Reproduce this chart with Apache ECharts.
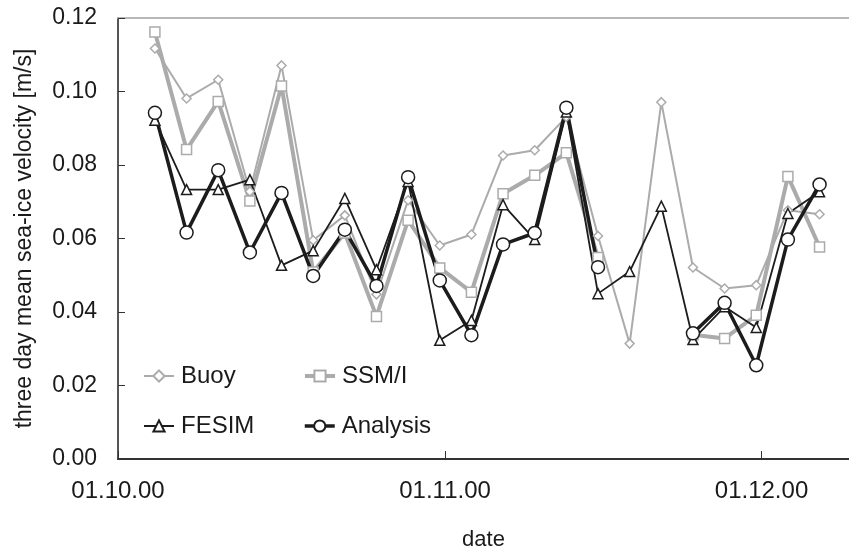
<!DOCTYPE html>
<html>
<head>
<meta charset="utf-8">
<script src="https://cdn.jsdelivr.net/npm/echarts@6/dist/echarts.min.js"></script>
<style>
html,body{margin:0;padding:0;background:#fff;}
#chart{width:849px;height:552px;}
</style>
</head>
<body>
<div id="chart"></div>
<script>
// Dates (centre of each three-day window)
const dates = ['2000-10-04 12:00','2000-10-07 12:00','2000-10-10 12:00','2000-10-13 12:00','2000-10-16 12:00',
  '2000-10-19 12:00','2000-10-22 12:00','2000-10-25 12:00','2000-10-28 12:00','2000-10-31 12:00',
  '2000-11-03 12:00','2000-11-06 12:00','2000-11-09 12:00','2000-11-12 12:00','2000-11-15 12:00',
  '2000-11-18 12:00','2000-11-21 12:00','2000-11-24 12:00','2000-11-27 12:00','2000-11-30 12:00',
  '2000-12-03 12:00','2000-12-06 12:00'];
const buoy = [0.1117,0.0981,0.1032,0.0728,0.1071,0.0595,0.0663,0.0448,0.0704,0.0581,
  0.0611,0.0826,0.0840,0.0931,0.0607,0.0314,0.0971,0.0521,0.0464,0.0473,0.0677,0.0666];
const ssmi = [0.1162,0.0842,0.0973,0.0702,0.1015,0.0509,0.0615,0.0388,0.0650,0.0520,
  0.0454,0.0722,0.0772,0.0833,0.0548,null,null,0.0338,0.0328,0.0391,0.0769,0.0577];
const fesim = [0.0922,0.0733,0.0733,0.0760,0.0527,0.0567,0.0709,0.0515,0.0755,0.0323,
  0.0377,0.0692,0.0597,0.0944,0.0450,0.0510,0.0688,0.0325,0.0414,0.0358,0.0668,0.0727];
const analysis = [0.0942,0.0616,0.0786,0.0562,0.0724,0.0498,0.0624,0.0471,0.0767,0.0486,
  0.0337,0.0584,0.0615,0.0956,0.0522,null,null,0.0342,0.0425,0.0255,0.0597,0.0747];
const tickDates = ['2000-10-01 00:00','2000-11-01 00:00','2000-12-01 00:00'];
const yTicks = [0,0.02,0.04,0.06,0.08,0.10,0.12];

const t = s => new Date(s.replace(' ', 'T')).getTime();
const pad = n => (n < 10 ? '0' : '') + n;
const fmtDate = v => { const d = new Date(v); return pad(d.getDate()) + '.' + pad(d.getMonth() + 1) + '.' + pad(d.getFullYear() % 100); };
const pairs = arr => dates.map((d, i) => [t(d), arr[i]]);

const FONT = 'Liberation Sans';
const GREY = '#ababab';
const BLACK = '#1c1c1c';
const XMIN = t('2000-10-01 00:00');
const XMAX = t('2000-12-09 07:00');

function mkSeries(name, data, symbol, size, color, lw) {
  return {
    name: name, type: 'line', data: pairs(data), connectNulls: false,
    symbol: symbol, symbolSize: size, showSymbol: true,
    lineStyle: { color: color, width: lw },
    itemStyle: { color: '#fff', borderColor: color, borderWidth: 1.5 },
    emphasis: { disabled: true }, animation: false
  };
}

function mkLegend(name, left, top, lw) {
  return {
    data: [name], left: left, top: top, padding: 0,
    itemWidth: 30, itemHeight: 14, itemGap: 0,
    lineStyle: { width: lw },
    textStyle: { fontFamily: FONT, fontSize: 24, color: '#1a1a1a', padding: [0, 0, 0, 2] },
    selectedMode: false
  };
}

const chart = echarts.init(document.getElementById('chart'), null, { renderer: 'canvas' });
chart.setOption({
  animation: false,
  backgroundColor: '#fff',
  grid: { left: 118, right: 0, top: 18, bottom: 93, outerBoundsMode: 'none', containLabel: false },
  legend: [
    mkLegend('Buoy', 143, 364, 2),
    mkLegend('SSM/I', 303, 364, 4),
    mkLegend('FESIM', 143, 414, 2),
    mkLegend('Analysis', 303, 414, 3.5)
  ],
  xAxis: [{
    type: 'value',
    min: XMIN, max: XMAX,
    name: 'date', nameLocation: 'middle', nameGap: 70,
    nameTextStyle: { fontFamily: FONT, fontSize: 22, color: '#1a1a1a' },
    axisLine: { show: true, lineStyle: { color: '#333', width: 2 } },
    axisTick: { show: true, inside: true, length: 8, lineStyle: { color: '#333', width: 1 }, customValues: tickDates.map(t) },
    axisLabel: { fontFamily: FONT, fontSize: 24, color: '#1a1a1a', margin: 20, customValues: tickDates.map(t), formatter: fmtDate },
    splitLine: { show: false }
  }, {
    type: 'value', position: 'top',
    min: XMIN, max: XMAX,
    axisLine: { show: true, lineStyle: { color: '#b8b8b8', width: 2 } },
    axisTick: { show: false }, axisLabel: { show: false }, splitLine: { show: false }
  }],
  yAxis: {
    type: 'value', min: 0, max: 0.12, interval: 0.02,
    name: 'three day mean sea-ice velocity [m/s]', nameLocation: 'middle', nameGap: 82,
    nameTextStyle: { fontFamily: FONT, fontSize: 23, color: '#1a1a1a' },
    axisLine: { show: true, lineStyle: { color: '#555', width: 2 } },
    axisTick: { show: true, inside: true, length: 7, lineStyle: { color: '#333', width: 1 } },
    axisLabel: { fontFamily: FONT, fontSize: 23, color: '#1a1a1a', margin: 21, formatter: v => v.toFixed(2) },
    splitLine: { show: false }
  },
  series: [
    mkSeries('Buoy', buoy, 'diamond', 9, GREY, 2),
    mkSeries('SSM/I', ssmi, 'rect', 10, GREY, 4),
    mkSeries('FESIM', fesim, 'triangle', 10, BLACK, 1.8),
    mkSeries('Analysis', analysis, 'circle', 13, BLACK, 3.5)
  ]
});
</script>
</body>
</html>
